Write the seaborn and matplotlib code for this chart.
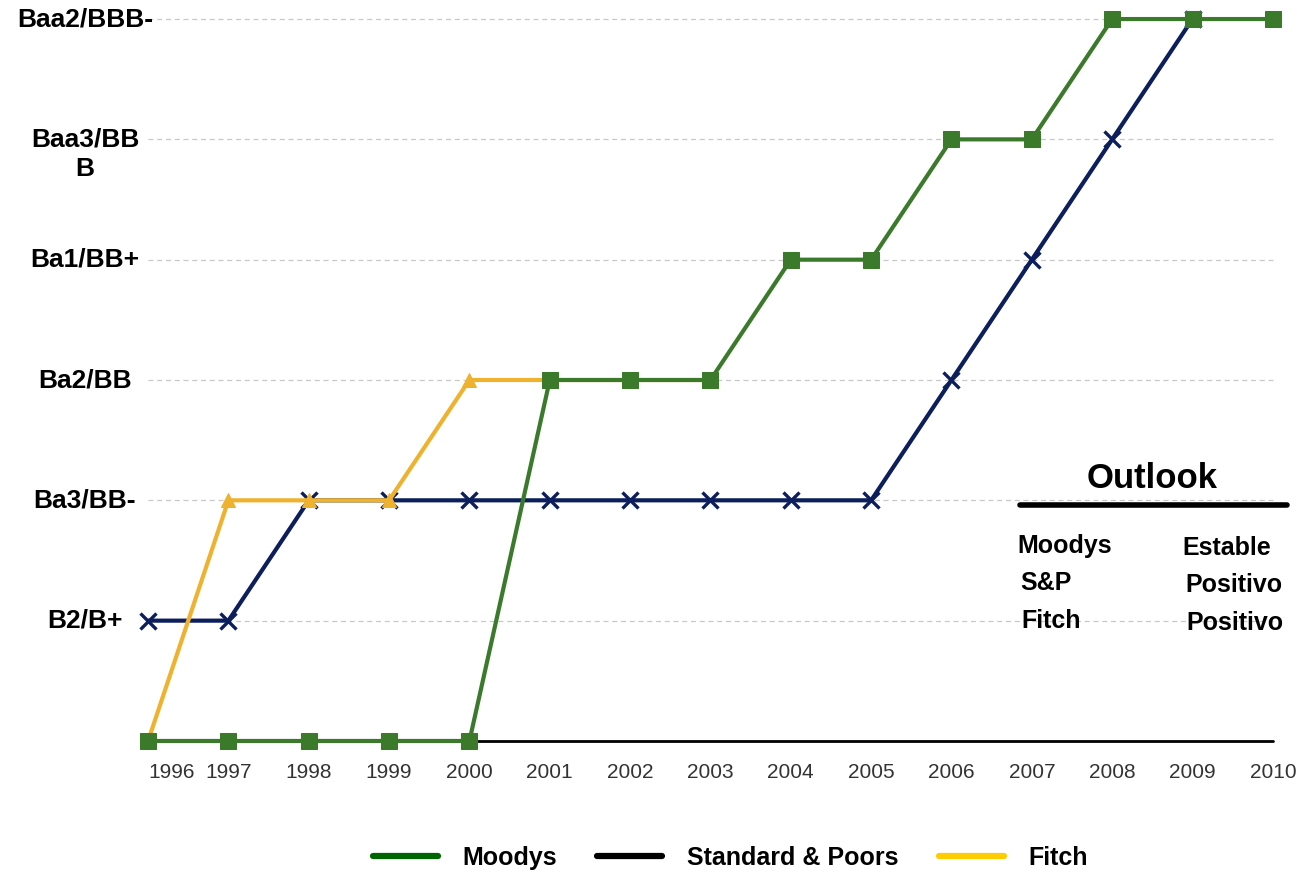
import matplotlib
matplotlib.use("Agg")
import matplotlib.pyplot as plt
from matplotlib.lines import Line2D
from matplotlib.transforms import blended_transform_factory
import seaborn as sns
import pandas as pd

sns.set_style("white")
plt.rcParams["font.family"] = ["Liberation Sans", "DejaVu Sans"]
plt.rcParams["text.color"] = "black"

years = ["1996", "1997", "1998", "1999", "2000", "2001", "2002", "2003",
         "2004", "2005", "2006", "2007", "2008", "2009", "2010"]
rating_labels = ["", "B2/B+", "Ba3/BB-", "Ba2/BB", "Ba1/BB+", "Baa3/BB\nB", "Baa2/BBB-"]

moodys = [0, 0, 0, 0, 0, 3, 3, 3, 4, 4, 5, 5, 6, 6, 6]
sp = [1, 1, 2, 2, 2, 2, 2, 2, 2, 2, 3, 4, 5, 6]
fitch = [0, 2, 2, 2, 3, 3, 3, 3]

outlook_agencies = ["Moodys", "S&P", "Fitch"]
outlook_values = ["Estable", "Positivo", "Positivo"]

legend_names = ["Moodys", "Standard & Poors", "Fitch"]

GREEN = "#3b7a2a"
NAVY = "#0c1e5b"
GOLD = "#efb22e"

fig = plt.figure(figsize=(13.09, 8.77), dpi=100)
ax = fig.add_axes([0.0947, 0.1414, 0.8961, 0.8506])

def frame(vals):
    return pd.DataFrame({"x": range(len(vals)), "y": vals})

# reference lines for each rating step
for lvl in range(1, len(rating_labels)):
    ax.plot([0, len(years) - 1], [lvl, lvl], color="#c8c8c8", lw=0.9,
            ls=(0, (4, 3)), zorder=0)
ax.plot([0, len(years) - 1], [0, 0], color="black", lw=2, zorder=1)

sns.lineplot(data=frame(sp), x="x", y="y", ax=ax, color=NAVY, lw=3,
             marker="x", markersize=11, markeredgewidth=2.4,
             markeredgecolor=NAVY, zorder=2)
sns.lineplot(data=frame(fitch), x="x", y="y", ax=ax, color=GOLD, lw=3,
             marker="^", markersize=10, markeredgecolor=GOLD, zorder=3)
sns.lineplot(data=frame(moodys), x="x", y="y", ax=ax, color=GREEN, lw=3,
             marker="s", markersize=11, markeredgecolor=GREEN, zorder=4)

ax.set_xlim(-0.3, len(years) - 1 + 0.3)
ax.set_ylim(-0.1, 6.1)
ax.set_xlabel("")
ax.set_ylabel("")
sns.despine(ax=ax, left=True, bottom=True)

ax.set_xticks(range(len(years)))
ax.set_xticklabels(years, fontsize=15, color="#333333")
ax.tick_params(axis="x", length=0, pad=7)
ax.get_xticklabels()[0].set_horizontalalignment("left")

ax.set_yticks([])
blend = blended_transform_factory(fig.transFigure, ax.transData)
for lvl, lab in enumerate(rating_labels):
    if not lab:
        continue
    extra = lab.count("\n")
    ax.annotate(lab, xy=(85 / 1309, lvl), xycoords=blend,
                xytext=(0, -11 * extra), textcoords="offset points",
                ha="center", va="center", fontsize=19, fontweight="bold",
                linespacing=1.3, color="black")

# outlook table
fig.text(1152 / 1309, 1 - 478 / 877, "Outlook", ha="center", va="center",
         fontsize=25, fontweight="bold", color="black")
fig.add_artist(Line2D([1020 / 1309, 1287 / 1309], [1 - 505 / 877, 1 - 505 / 877],
                      transform=fig.transFigure, color="black", lw=4))
rows_y = [546, 583, 621]
for name, val, yy, dx in zip(outlook_agencies, outlook_values, rows_y, [0, 3, 4]):
    fig.text((1017 + dx) / 1309, 1 - yy / 877, name, ha="left", va="center",
             fontsize=18, fontweight="bold", color="black")
    fig.text((1182 + dx) / 1309, 1 - (yy + 2) / 877, val, ha="left", va="center",
             fontsize=18, fontweight="bold", color="black")

handles = [Line2D([], [], color=c, lw=4.5) for c in ["#006400", "black", "#ffcc00"]]
leg = fig.legend(handles, legend_names, loc="center", bbox_to_anchor=(0.558, 1 - 858 / 877),
                 ncol=3, frameon=False, prop={"size": 18, "weight": "bold"},
                 handlelength=2.6, columnspacing=1.6, handletextpad=1.0)
for t in leg.get_texts():
    t.set_color("black")

fig.savefig("out.png", dpi=100)
